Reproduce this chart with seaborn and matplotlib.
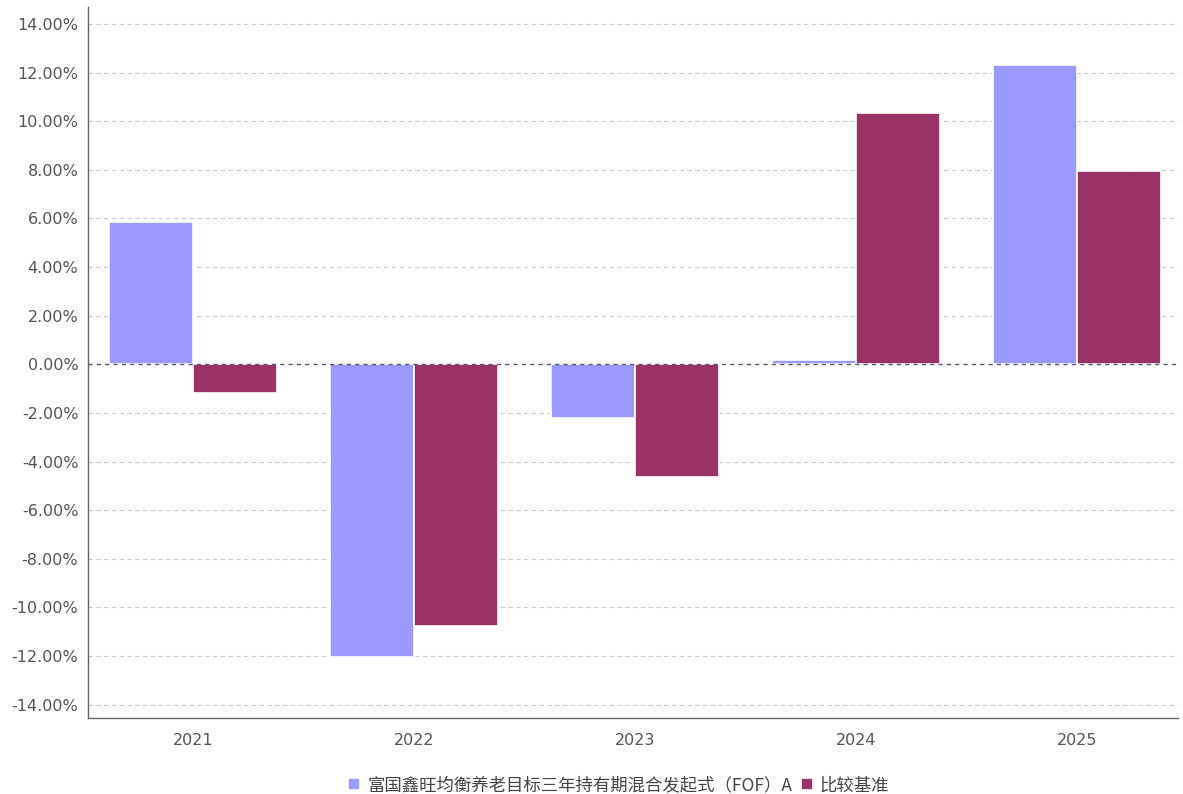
import numpy as np
import pandas as pd
import matplotlib
matplotlib.use("Agg")
import matplotlib.pyplot as plt
import seaborn as sns
from matplotlib.ticker import FuncFormatter

sns.set_style("white")
plt.rcParams['font.family'] = ['Noto Sans CJK SC', 'DejaVu Sans']

# data (percent)
years = ["2021", "2022", "2023", "2024", "2025"]
fund = [5.86, -12.03, -2.20, 0.18, 12.32]
bench = [-1.17, -10.75, -4.63, 10.34, 7.96]
series_names = ["富国鑫旺均衡养老目标三年持有期混合发起式（FOF）A", "比较基准"]
colors = ["#9999ff", "#993366"]

df = pd.DataFrame({
    "year": years * 2,
    "value": fund + bench,
    "series": [series_names[0]] * len(years) + [series_names[1]] * len(years),
})

fig = plt.figure(figsize=(11.83, 7.94), dpi=100)
ax = fig.add_axes([88 / 1183, 1 - 718 / 794, 1090 / 1183, 711 / 794])

sns.barplot(data=df, x="year", y="value", hue="series", palette=colors,
            width=0.76, edgecolor="white", linewidth=1.2, saturation=1,
            ax=ax, zorder=3)

# grid lines
for t in np.arange(-14, 15, 2):
    if t == 0:
        continue
    ax.axhline(t, color="#cccccc", linestyle=(0, (4, 3)), linewidth=0.8, zorder=1)
ax.axhline(0, color="#555577", linestyle=(0, (3, 3)), linewidth=1.0, zorder=4)

ax.set_ylim(-14.55, 14.7)
ax.set_xlim(-0.475, 4.457)
ax.set_yticks(np.arange(-14, 15, 2))
ax.yaxis.set_major_formatter(FuncFormatter(lambda v, p: f"{v:.2f}%"))
ax.set_xlabel("")
ax.set_ylabel("")

for side in ["top", "right"]:
    ax.spines[side].set_visible(False)
for side in ["left", "bottom"]:
    ax.spines[side].set_color("#666666")
    ax.spines[side].set_linewidth(1.0)

ax.tick_params(axis="both", labelsize=11.5, colors="#555555", length=3,
               labelcolor="#555555")
ax.tick_params(axis="x", pad=8)
ax.tick_params(axis="y", length=0, pad=7)
for lab in ax.get_xticklabels() + ax.get_yticklabels():
    lab.set_fontfamily("DejaVu Sans")

ax.legend(loc="upper center", bbox_to_anchor=(0.487, -0.06), ncol=2,
          frameon=False, fontsize=12.5, handlelength=0.7, handleheight=0.7,
          handletextpad=0.4, columnspacing=0.5, labelcolor="#444444")

fig.savefig("out.png", dpi=100)
